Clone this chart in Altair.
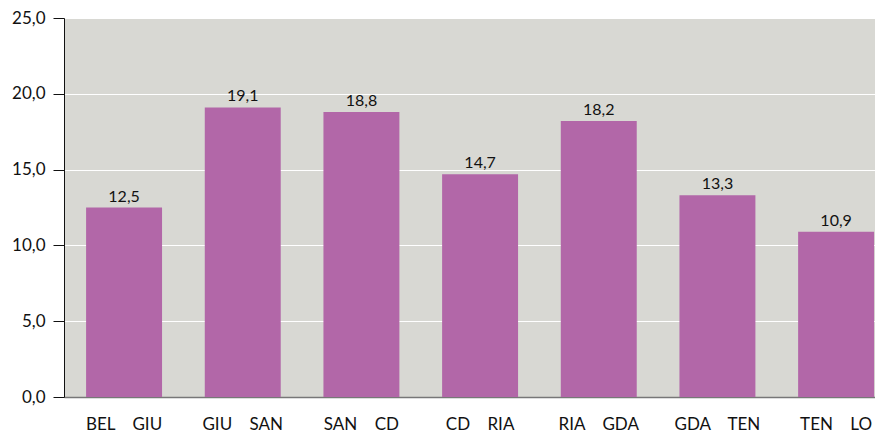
import altair as alt
import pandas as pd

NB = "\u00a0\u00a0\u00a0\u00a0"
categories = [f"BEL{NB}GIU", f"GIU{NB}SAN", f"SAN{NB}CD", f"CD{NB}RIA", f"RIA{NB}GDA", f"GDA{NB}TEN", f"TEN{NB}LO"]
values = [12.5, 19.1, 18.8, 14.7, 18.2, 13.3, 10.9]
y_ticks = [0, 5, 10, 15, 20, 25]

df = pd.DataFrame({"cat": categories, "val": values})
df["lab"] = [f"{v:.1f}".replace(".", ",") for v in values]

FONT = "Lato"

x = alt.X("cat:N", sort=categories, title=None,
          scale=alt.Scale(paddingInner=0.36, paddingOuter=0.097, align=0.96),
          axis=alt.Axis(labelAngle=0, ticks=False, labelPadding=19, labelFontSize=17,
                        labelFont=FONT, labelColor="#111", domainColor="#777", domainWidth=1.5,
                        grid=False))
y = alt.Y("val:Q", title=None,
          scale=alt.Scale(domain=[0, 25], nice=False),
          axis=alt.Axis(values=y_ticks, labelExpr="replace(format(datum.value, '.1f'), '.', ',')",
                        labelFontSize=17, labelFont=FONT, labelColor="#111",
                        tickSize=11, tickColor="#111", domainColor="#111",
                        gridColor="white", gridWidth=1.2, labelPadding=8))

bars = alt.Chart(df).mark_bar(color="#B267A8").encode(x=x, y=y)
text = alt.Chart(df).mark_text(dy=-11, fontSize=16, font=FONT, color="#111").encode(
    x=alt.X("cat:N", sort=categories), y="val:Q", text="lab:N")

chart = (bars + text).properties(
    width=811, height=379,
    padding={"left": 3, "top": 1, "right": 0, "bottom": 0},
).configure_view(fill="#D8D8D3", stroke=None)

chart.save("out.html", embed_options={"renderer": "svg", "actions": False})
